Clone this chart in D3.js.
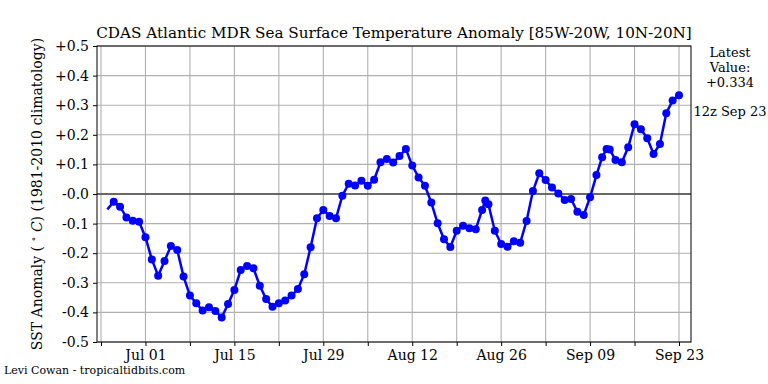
<!DOCTYPE html>
<html>
<head>
<meta charset="utf-8">
<script src="https://cdn.jsdelivr.net/npm/d3@7"></script>
<style>
    body { margin: 0; background: white; }
    text { font-family: "DejaVu Serif", serif; }
</style>
</head>
<body>
<div class="chart"></div>
<script>
// days after Jun 24 for each analysis, and the anomaly
var startDate = new Date(2019, 5, 24);
var dayOffsets = [1, 2, 3, 4, 5, 6, 7, 8, 9, 10,
    11, 12, 13, 14, 15, 16, 17, 18, 19, 20,
    21, 22, 23, 24, 25, 26, 27, 28, 29, 30,
    31, 32, 33, 34, 35, 36, 37, 38, 39, 40,
    41, 42, 43, 44, 45, 46, 47, 48, 49, 50,
    51, 52, 53, 54, 55, 56, 57, 58, 59, 60,
    60.5, 61, 62, 63, 64, 65, 66, 67, 68, 69,
    70, 71, 72, 73, 74, 75, 76, 77, 78, 78.9,
    79.6, 80.1, 81, 82, 83, 84, 85, 86, 87, 88,
    89, 90, 91];
var sstAnomaly = [-0.052, -0.026, -0.043, -0.079, -0.090, -0.094, -0.146, -0.221, -0.276, -0.226,
    -0.176, -0.189, -0.279, -0.343, -0.369, -0.394, -0.383, -0.395, -0.417, -0.372,
    -0.324, -0.257, -0.243, -0.251, -0.310, -0.355, -0.381, -0.369, -0.360, -0.343,
    -0.321, -0.271, -0.180, -0.082, -0.054, -0.074, -0.082, -0.006, 0.035, 0.029,
    0.045, 0.028, 0.048, 0.107, 0.118, 0.106, 0.128, 0.152, 0.096, 0.056,
    0.028, -0.029, -0.099, -0.153, -0.179, -0.124, -0.107, -0.116, -0.119, -0.054,
    -0.022, -0.035, -0.124, -0.169, -0.178, -0.160, -0.165, -0.091, 0.010, 0.070,
    0.047, 0.022, 0.002, -0.020, -0.017, -0.060, -0.071, -0.011, 0.064, 0.124,
    0.152, 0.150, 0.115, 0.107, 0.158, 0.236, 0.219, 0.188, 0.135, 0.169,
    0.273, 0.316, 0.334];
var yTicks = [-0.5, -0.4, -0.3, -0.2, -0.1, 0, 0.1, 0.2, 0.3, 0.4, 0.5];
var yTickLabels = ["-0.5", "-0.4", "-0.3", "-0.2", "-0.1", "-0.0", "+0.1", "+0.2", "+0.3", "+0.4", "+0.5"];
var xTickDays = [0, 7, 14, 21, 28, 35, 42, 49, 56, 63, 70, 77, 84, 91];
var latestLines = ["Latest", "Value:", "+0.334"];
var latestTime = "12z Sep 23";

var width = 768, height = 384;
var box = {left: 97, right: 691, top: 46, bottom: 342};

function dayToDate(d) {
    return new Date(startDate.getTime() + d * 86400000);
}

var svg = d3.select(".chart").append("svg").attr("width", width).attr("height", height);

var x = d3.scaleTime()
    .domain([dayToDate(0), dayToDate(91)])
    .range([101, 679]);
var y = d3.scaleLinear().domain([-0.5, 0.5]).range([box.bottom, box.top]);

var points = dayOffsets.map(function (d, i) {
    return {date: dayToDate(d), value: sstAnomaly[i]};
});
var xTicks = xTickDays.map(dayToDate);
var fmt = d3.timeFormat("%b %d");

// grid
svg.append("g").selectAll("line").data(xTicks).enter().append("line")
    .attr("x1", function (d) { return x(d); }).attr("x2", function (d) { return x(d); })
    .attr("y1", box.top).attr("y2", box.bottom)
    .attr("stroke", "#b0b0b0").attr("stroke-width", 1.1);
svg.append("g").selectAll("line").data(yTicks).enter().append("line")
    .attr("x1", box.left).attr("x2", box.right)
    .attr("y1", function (d) { return y(d); }).attr("y2", function (d) { return y(d); })
    .attr("stroke", "#b0b0b0").attr("stroke-width", 1.1);

// zero line
svg.append("line").attr("x1", box.left).attr("x2", box.right)
    .attr("y1", y(0)).attr("y2", y(0))
    .attr("stroke", "#444").attr("stroke-width", 1.5);

// axes
var xAxis = d3.axisBottom(x).tickValues(xTicks).tickSize(4).tickPadding(4)
    .tickFormat(function (d, i) { return (i % 2 == 1) ? fmt(d) : ""; });
var gx = svg.append("g").attr("transform", "translate(0," + box.bottom + ")").call(xAxis);
var yAxis = d3.axisLeft(y).tickValues(yTicks).tickSize(4).tickPadding(4)
    .tickFormat(function (d, i) { return yTickLabels[i]; });
var gy = svg.append("g").attr("transform", "translate(" + box.left + ",0)").call(yAxis);
[gx, gy].forEach(function (g) {
    g.select(".domain").remove();
    g.selectAll("text").attr("font-size", 14).attr("font-family", "DejaVu Serif").attr("fill", "#000");
    g.selectAll("line").attr("stroke", "#000");
});

// frame
svg.append("rect").attr("x", box.left).attr("y", box.top)
    .attr("width", box.right - box.left).attr("height", box.bottom - box.top)
    .attr("fill", "none").attr("stroke", "#000").attr("stroke-width", 1);

// series
var line = d3.line().x(function (d) { return x(d.date); }).y(function (d) { return y(d.value); });
svg.append("path").datum(points).attr("d", line)
    .attr("fill", "none").attr("stroke", "#0000ff").attr("stroke-width", 2.5);
svg.append("g").selectAll("circle").data(points.slice(1)).enter().append("circle")
    .attr("cx", function (d) { return x(d.date); })
    .attr("cy", function (d) { return y(d.value); })
    .attr("r", 4).attr("fill", "#0000ff");

// title
svg.append("text").attr("x", 394).attr("y", 38).attr("text-anchor", "middle")
    .attr("font-size", 15.2).text("CDAS Atlantic MDR Sea Surface Temperature Anomaly [85W-20W, 10N-20N]");

// y label with degree symbol and italic C
var ylab = svg.append("text").attr("transform", "translate(42," + y(0) + ") rotate(-90)")
    .attr("text-anchor", "middle").attr("font-size", 14);
ylab.append("tspan").text("SST Anomaly ( ");
ylab.append("tspan").attr("font-size", 10).attr("dy", -5).text("\u2218");
ylab.append("tspan").attr("dy", 5).text(" ");
ylab.append("tspan").attr("font-style", "italic").text("C");
ylab.append("tspan").text(") (1981-2010 climatology)");

// latest value note
latestLines.forEach(function (s, i) {
    svg.append("text").attr("x", 730).attr("y", 57 + i * 15).attr("text-anchor", "middle")
        .attr("font-size", 13).text(s);
});
svg.append("text").attr("x", 730).attr("y", 116).attr("text-anchor", "middle")
    .attr("font-size", 13).text(latestTime);

// credit
svg.append("text").attr("x", 4).attr("y", 374).attr("font-size", 11).text("Levi Cowan - tropicaltidbits.com");
</script>
</body>
</html>
